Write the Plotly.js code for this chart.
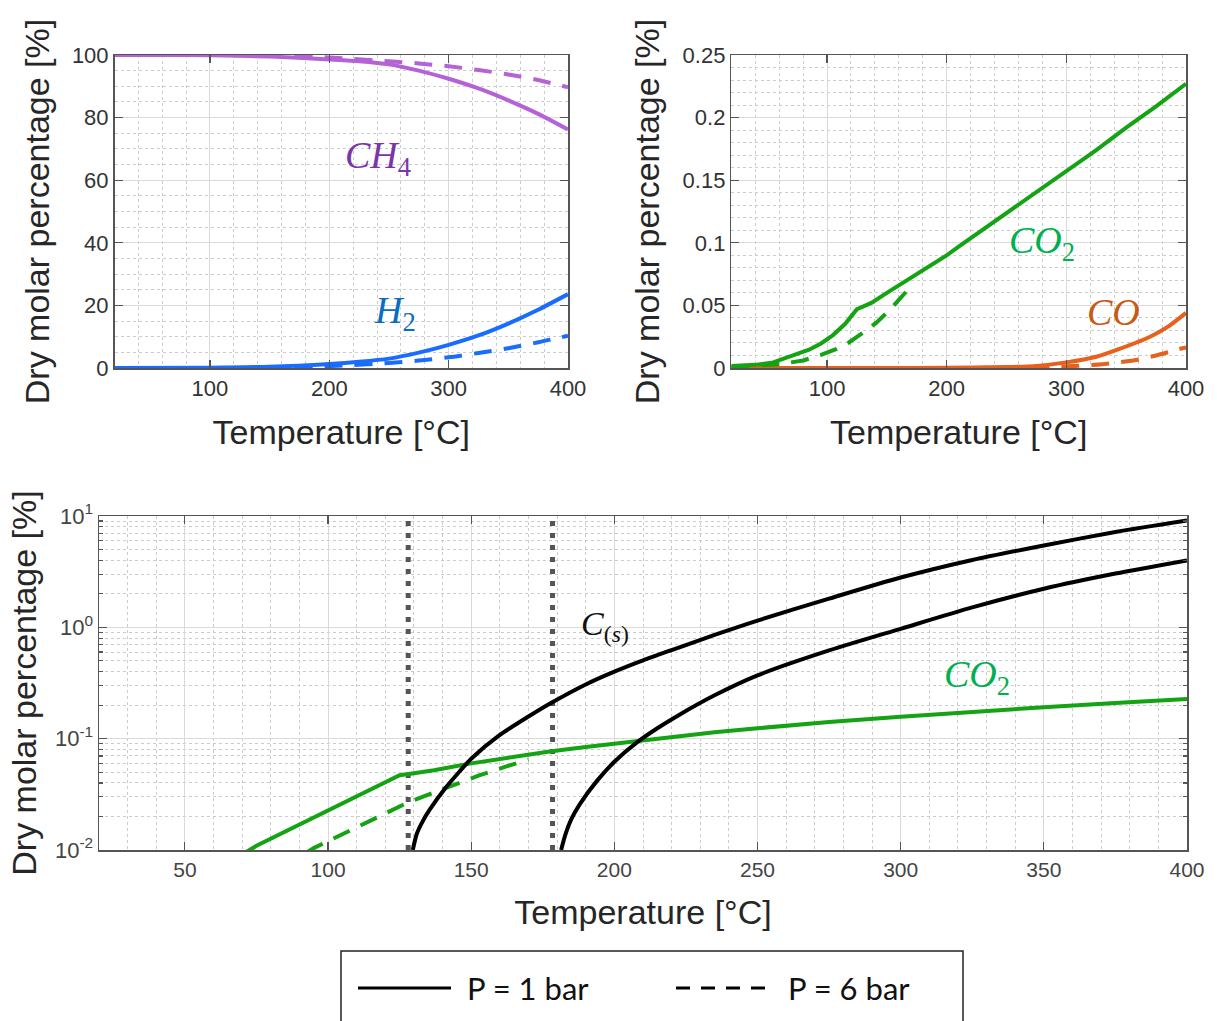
<!DOCTYPE html>
<html><head><meta charset="utf-8">
<script src="https://cdn.plot.ly/plotly-3.0.1.min.js"></script>
<style>html,body{margin:0;padding:0;background:#fff}#chart{width:1217px;height:1021px}</style>
</head><body><div id="chart"></div>
<script>
// ---------- Top-left panel: CH4 and H2 ----------
const T_CH4_1 = [20, 60, 100, 150, 200, 225, 250, 275, 300, 325, 350, 375, 400];
const CH4_1   = [100, 100, 99.9, 99.5, 98.6, 98.0, 97.0, 95.0, 92.4, 89.3, 85.5, 81.2, 76.2];
const T_CH4_6 = [20, 100, 150, 200, 250, 275, 300, 325, 350, 375, 400];
const CH4_6   = [100, 100, 99.8, 99.2, 98.0, 97.3, 96.4, 95.2, 93.8, 92.0, 89.7];
const T_H2_1  = [20, 100, 150, 200, 225, 250, 275, 300, 325, 350, 375, 400];
const H2_1    = [0, 0.1, 0.4, 1.3, 2.0, 3.0, 4.9, 7.4, 10.4, 14.2, 18.6, 23.6];
const T_H2_6  = [20, 100, 150, 200, 250, 275, 300, 325, 350, 375, 400];
const H2_6    = [0, 0, 0.1, 0.6, 1.6, 2.4, 3.4, 4.8, 6.3, 8.2, 10.3];

// ---------- CO2 (shared by top-right and bottom panels) ----------
const T_CO2_1 = [20, 40, 55, 67, 75, 85, 95, 105, 115, 125, 130, 137, 150, 165, 178, 190, 200, 210, 222, 235, 250, 275, 300, 325, 350, 375, 400];
const CO2_1   = [0.0015, 0.0025, 0.0045, 0.0082, 0.0109, 0.0146, 0.0196, 0.0263, 0.0351, 0.047, 0.049, 0.052, 0.060, 0.069, 0.077, 0.084, 0.090, 0.097, 0.105, 0.114, 0.124, 0.141, 0.157, 0.174, 0.192, 0.209, 0.227];
const T_CO2_6 = [20, 40, 60, 80, 95, 108, 118, 128, 141, 153, 162, 170];
const CO2_6   = [0.0008, 0.0015, 0.003, 0.006, 0.0104, 0.0152, 0.0202, 0.0268, 0.036, 0.047, 0.056, 0.065];

// ---------- CO (top-right) ----------
const T_CO_1 = [20, 150, 200, 250, 275, 300, 325, 345, 370, 385, 400];
const CO_1   = [0, 0, 0.0002, 0.0008, 0.0017, 0.0045, 0.009, 0.0155, 0.025, 0.033, 0.044];
const T_CO_6 = [20, 200, 250, 300, 330, 357, 375, 390, 400];
const CO_6   = [0, 0, 0.0003, 0.0013, 0.003, 0.0062, 0.010, 0.014, 0.0165];

// ---------- Solid carbon C(s) (bottom panel, log scale) ----------
const T_Cs_a = [129.6, 131, 133, 135.5, 141, 146, 150, 160, 170, 178, 190, 200, 210, 220, 235, 250, 275, 300, 325, 350, 375, 400];
const Cs_a   = [0.01, 0.014, 0.018, 0.023, 0.036, 0.051, 0.066, 0.108, 0.158, 0.21, 0.307, 0.40, 0.505, 0.625, 0.855, 1.15, 1.81, 2.8, 4.03, 5.44, 7.18, 9.1];
const T_Cs_b = [181.4, 183, 185, 188, 194, 200, 208, 215, 222, 235, 250, 275, 300, 325, 350, 375, 400];
const Cs_b   = [0.01, 0.014, 0.019, 0.026, 0.042, 0.062, 0.093, 0.124, 0.16, 0.245, 0.37, 0.62, 0.97, 1.51, 2.22, 3.04, 3.99];

// Carbon-formation onset temperatures (vertical dotted markers)
const onsetT = [128, 178.4];
const logRange = [0.01, 10];

// Tick labels
const logTickVals = [0.01, 0.1, 1, 10];
const logTickText = ['10<sup>-2</sup>', '10<sup>-1</sup>', '10<sup>0</sup>', '10<sup>1</sup>'];

// ---------- Styling ----------
const W = 1217, H = 1021;
const px = x => x / W, py = y => 1 - y / H;
const SANS = 'Liberation Sans, Arial, Helvetica, sans-serif';
const SERIF = 'Liberation Serif, DejaVu Serif, serif';
const C = {
  ch4: '#B462D6', ch4Lbl: '#7A35A8',
  h2: '#1A6CFF', h2Lbl: '#0A6CC4',
  co2: '#13A313', co2Lbl: '#00B050',
  co: '#E6601E', coLbl: '#C85A14',
  cs: '#000000', vline: '#555555'
};
const LW = 4;
const DASH = '18px,12px';

function line(x, y, color, dash, xa, ya, name, smooth) {
  const ln = {color, width: LW, dash: dash ? DASH : 'solid'};
  if (smooth) { ln.shape = 'spline'; ln.smoothing = 0.7; }
  return {x, y, type: 'scatter', mode: 'lines', name, xaxis: xa, yaxis: ya,
    line: ln, showlegend: false, hoverinfo: 'skip'};
}

const traces = [
  line(T_CH4_6, CH4_6, C.ch4, true, 'x', 'y', 'CH4 6 bar', true),
  line(T_CH4_1, CH4_1, C.ch4, false, 'x', 'y', 'CH4 1 bar', true),
  line(T_H2_6, H2_6, C.h2, true, 'x', 'y', 'H2 6 bar', true),
  line(T_H2_1, H2_1, C.h2, false, 'x', 'y', 'H2 1 bar', true),

  line(T_CO_6, CO_6, C.co, true, 'x2', 'y2', 'CO 6 bar', true),
  line(T_CO_1, CO_1, C.co, false, 'x2', 'y2', 'CO 1 bar', true),
  line(T_CO2_6, CO2_6, C.co2, true, 'x2', 'y2', 'CO2 6 bar', false),
  line(T_CO2_1, CO2_1, C.co2, false, 'x2', 'y2', 'CO2 1 bar', false),
];
// vertical dotted onset markers in bottom panel
onsetT.forEach(t => traces.push({x: [t, t], y: logRange, type: 'scatter', mode: 'lines', xaxis: 'x3', yaxis: 'y3',
  line: {color: C.vline, width: 5, dash: '5px,7px'}, showlegend: false, hoverinfo: 'skip'}));
traces.push(
  line(T_CO2_6, CO2_6, C.co2, true, 'x3', 'y3', 'CO2 6 bar', false),
  line(T_CO2_1, CO2_1, C.co2, false, 'x3', 'y3', 'CO2 1 bar', false),
  line(T_Cs_a, Cs_a, C.cs, false, 'x3', 'y3', 'C(s) a', true),
  line(T_Cs_b, Cs_b, C.cs, false, 'x3', 'y3', 'C(s) b', true)
);

const tickFont = {family: SANS, size: 22, color: '#333333'};
const titleFont = {family: SANS, size: 34, color: '#262626'};
function axis(extra) {
  return Object.assign({
    showline: true, linecolor: '#555555', linewidth: 1.5, mirror: 'ticks',
    ticks: 'inside', ticklen: 8, tickwidth: 1.2, tickcolor: '#555555',
    showgrid: true, gridcolor: '#dadada', gridwidth: 1, zeroline: false,
    tickfont: tickFont, fixedrange: true
  }, extra);
}
const minorLin = d => ({dtick: d, showgrid: true, gridcolor: '#cccccc', griddash: 'dot', gridwidth: 1, ticks: ''});

const topY = [py(368), py(55)];
const layout = {
  width: W, height: H, margin: {l: 0, r: 0, t: 0, b: 0},
  paper_bgcolor: '#ffffff', plot_bgcolor: '#ffffff', showlegend: false,
  xaxis: axis({domain: [px(114.5), px(568)], range: [20, 400], dtick: 100, tick0: 0, minor: minorLin(20),
    title: {text: 'Temperature [°C]', font: titleFont, standoff: 20}, anchor: 'y'}),
  yaxis: axis({domain: topY, range: [0, 100], dtick: 20, minor: minorLin(5),
    title: {text: 'Dry molar percentage [%]', font: titleFont, standoff: 12}, anchor: 'x'}),
  xaxis2: axis({domain: [px(731.3), px(1186)], range: [20, 400], dtick: 100, tick0: 0, minor: minorLin(20),
    title: {text: 'Temperature [°C]', font: titleFont, standoff: 20}, anchor: 'y2'}),
  yaxis2: axis({domain: topY, range: [0, 0.25], dtick: 0.05, minor: minorLin(0.01),
    title: {text: 'Dry molar percentage [%]', font: titleFont, standoff: 12}, anchor: 'x2'}),
  xaxis3: axis({domain: [px(99), px(1187)], range: [20, 400], dtick: 50, tick0: 0, minor: minorLin(10),
    tickfont: Object.assign({}, tickFont, {size: 21, color: '#444444'}),
    title: {text: 'Temperature [°C]', font: titleFont, standoff: 20}, anchor: 'y3'}),
  yaxis3: axis({domain: [py(850), py(516)], type: 'log', range: [-2, 1], tickmode: 'array',
    tickvals: logTickVals, ticktext: logTickText,
    tickfont: Object.assign({}, tickFont, {size: 22, color: '#444444'}),
    minor: {dtick: 'D1', showgrid: true, gridcolor: '#cccccc', griddash: 'dot', gridwidth: 1, ticks: 'inside', ticklen: 4, tickcolor: '#555555'},
    title: {text: 'Dry molar percentage [%]', font: titleFont, standoff: 8}, anchor: 'x3'}),
  annotations: [
    {xref: 'x', yref: 'y', x: 241, y: 67, text: '<i>CH</i><sub>4</sub>', showarrow: false, font: {family: SERIF, size: 38, color: C.ch4Lbl}},
    {xref: 'x', yref: 'y', x: 255, y: 17.6, text: '<i>H</i><sub>2</sub>', showarrow: false, font: {family: SERIF, size: 38, color: C.h2Lbl}},
    {xref: 'x2', yref: 'y2', x: 279.6, y: 0.1, text: '<i>CO</i><sub>2</sub>', showarrow: false, font: {family: SERIF, size: 38, color: C.co2Lbl}},
    {xref: 'x2', yref: 'y2', x: 339, y: 0.045, text: '<i>CO</i>', showarrow: false, font: {family: SERIF, size: 38, color: C.coLbl}},
    {xref: 'x3', yref: 'y3', x: 196.7, y: 0.01, text: '<i>C</i><sub>(<i>s</i>)</sub>', showarrow: false, font: {family: SERIF, size: 34, color: '#111111'}},
    {xref: 'x3', yref: 'y3', x: 326.7, y: -0.443, text: '<i>CO</i><sub>2</sub>', showarrow: false, font: {family: SERIF, size: 38, color: C.co2Lbl}},
    // legend texts
    {xref: 'paper', yref: 'paper', x: px(465), y: py(988), xanchor: 'left', yanchor: 'middle', text: 'P = 1 bar', showarrow: false, font: {family: 'Lato, Open Sans, sans-serif', size: 31, color: '#111111'}},
    {xref: 'paper', yref: 'paper', x: px(786), y: py(988), xanchor: 'left', yanchor: 'middle', text: 'P = 6 bar', showarrow: false, font: {family: 'Lato, Open Sans, sans-serif', size: 31, color: '#111111'}}
  ],
  shapes: [
    {type: 'rect', xref: 'paper', yref: 'paper', x0: px(341), x1: px(963), y0: py(1040), y1: py(951), line: {color: '#222222', width: 1.5}},
    {type: 'line', xref: 'paper', yref: 'paper', x0: px(358), x1: px(451), y0: py(988), y1: py(988), line: {color: '#000000', width: 3}},
    {type: 'line', xref: 'paper', yref: 'paper', x0: px(676), x1: px(767), y0: py(988), y1: py(988), line: {color: '#000000', width: 3, dash: '14px,11px'}}
  ]
};

Plotly.newPlot('chart', traces, layout, {displayModeBar: false, staticPlot: true});
</script></body></html>
